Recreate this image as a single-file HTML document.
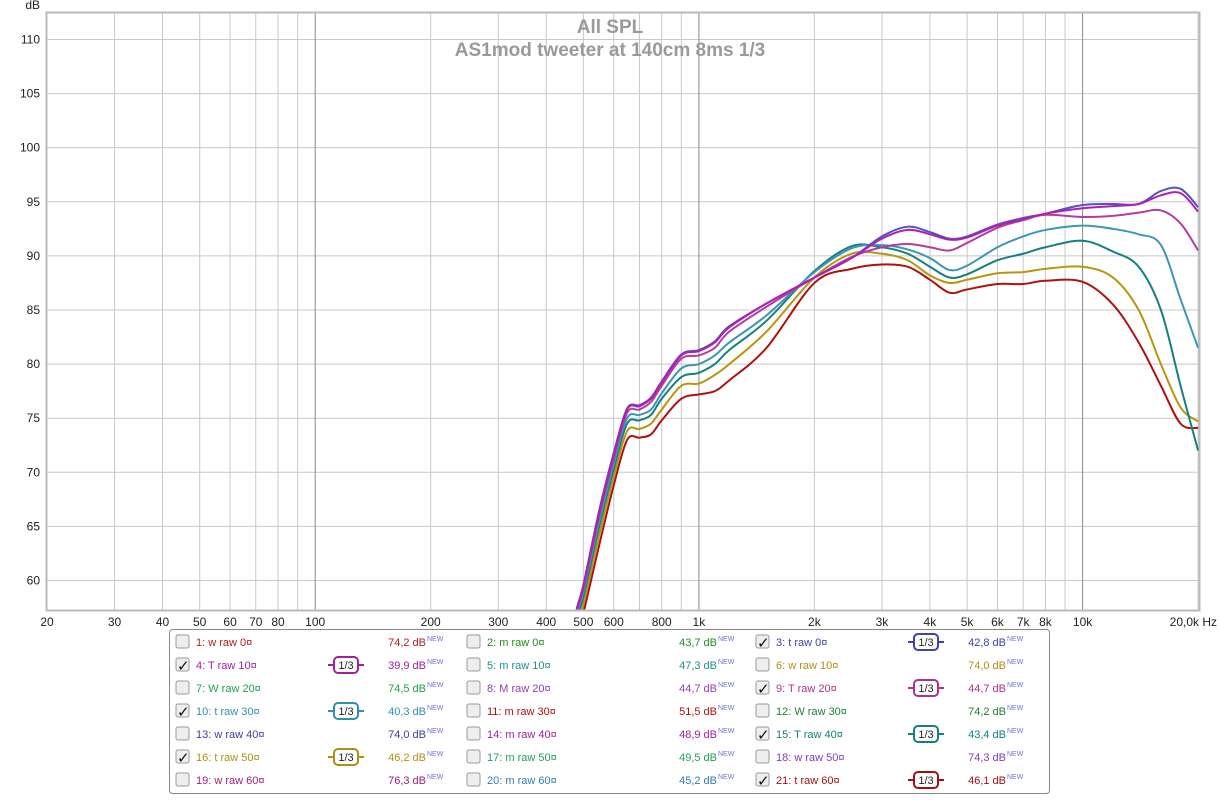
<!DOCTYPE html>
<html><head><meta charset="utf-8">
<style>
body{margin:0;background:#fff;font-family:"Liberation Sans",sans-serif;}
svg text{font-family:"Liberation Sans",sans-serif;}
</style></head>
<body>
<svg id="chart" width="1220" height="795" viewBox="0 0 1220 795" xmlns="http://www.w3.org/2000/svg">
<rect x="0" y="0" width="1220" height="795" fill="#fff"/>
<g id="grid"></g>
<g id="axes"></g>
<text x="610" y="33" text-anchor="middle" font-size="19" font-weight="bold" fill="#9a9a9a">All SPL</text>
<text x="610" y="56" text-anchor="middle" font-size="19" font-weight="bold" fill="#9a9a9a">AS1mod tweeter at 140cm 8ms 1/3</text>
<defs><clipPath id="pc"><rect x="47" y="13" width="1152" height="597"/></clipPath></defs>
<g id="curves" clip-path="url(#pc)"></g>
<rect x="46.5" y="12.5" width="1153" height="598" fill="none" stroke="#bbb" stroke-width="2"/>
<g id="legend"></g>
</svg>
<script>
const freqs=[470,480,500,550,600,650,700,750,800,900,1000,1100,1200,1500,2000,2500,3000,3500,4000,4500,5000,6000,7000,8000,10000,12000,14000,16000,18000,20000];
const s3 =[54.5,57.3,59.6,66.5,71.8,75.9,76.2,76.9,78.4,80.9,81.3,82.1,83.5,85.6,88.0,89.8,91.8,92.7,92.2,91.6,91.8,92.9,93.5,93.9,94.7,94.8,94.8,96.0,96.2,94.5];
const s4 =[54.5,57.2,59.5,66.3,71.6,75.8,76.1,76.8,78.3,80.8,81.2,82.0,83.4,85.6,88.0,89.8,91.6,92.4,92.0,91.5,91.7,92.8,93.4,93.9,94.4,94.6,94.8,95.6,95.8,94.1];
const s9 =[54.3,57.0,59.3,66.0,71.3,75.5,75.8,76.5,78.0,80.5,80.8,81.5,83.0,85.3,88.0,89.9,90.8,91.1,90.8,90.5,91.2,92.6,93.3,93.8,93.6,93.7,94.0,94.2,93.0,90.5];
const s10=[54.0,56.7,59.0,65.5,70.8,75.0,75.3,75.8,77.3,79.6,80.0,80.8,82.0,84.5,88.5,90.7,91.0,90.6,89.8,88.7,89.1,90.8,91.8,92.4,92.8,92.5,92.0,91.0,86.0,81.5];
const s15=[53.6,56.3,58.5,65.0,70.3,74.5,74.8,75.3,76.8,78.8,79.2,80.0,81.3,84.0,88.6,90.9,90.8,90.2,89.0,88.0,88.3,89.6,90.2,90.8,91.4,90.4,89.0,85.0,78.0,72.0];
const s16=[53.0,55.7,57.8,64.2,69.6,73.8,74.0,74.5,75.8,78.0,78.2,79.0,80.0,83.0,88.0,90.2,90.2,89.6,88.2,87.5,87.8,88.4,88.5,88.8,89.0,88.0,85.0,80.0,76.0,74.7];
const s21=[52.4,55.0,57.0,63.3,68.8,73.0,73.2,73.5,74.8,76.8,77.2,77.5,78.5,81.5,87.5,88.8,89.2,89.0,87.8,86.6,86.9,87.4,87.4,87.7,87.6,85.5,82.0,78.0,74.5,74.1];
const seriesList=[[s21,'#b01010','curve-21-t-raw-60'],[s16,'#b8960c','curve-16-t-raw-50'],[s15,'#168080','curve-15-T-raw-40'],[s10,'#3c96b4','curve-10-t-raw-30'],[s9,'#b43ca0','curve-9-T-raw-20'],[s3,'#5050c8','curve-3-t-raw-0'],[s4,'#b020b0','curve-4-T-raw-10']];
const yTicks=[60,65,70,75,80,85,90,95,100,105,110];
const xLabels=[[20,'20'],[30,'30'],[40,'40'],[50,'50'],[60,'60'],[70,'70'],[80,'80'],[100,'100'],[200,'200'],[300,'300'],[400,'400'],[500,'500'],[600,'600'],[800,'800'],[1000,'1k'],[2000,'2k'],[3000,'3k'],[4000,'4k'],[5000,'5k'],[6000,'6k'],[7000,'7k'],[8000,'8k'],[10000,'10k']];
const NS='http://www.w3.org/2000/svg';
const X=f=>47+383.7*Math.log10(f/20);
const Y=d=>39.5+(110-d)*10.82;
function mk(t,a,p){const e=document.createElementNS(NS,t);for(const k in a)e.setAttribute(k,a[k]);p.appendChild(e);return e;}
const grid=document.getElementById('grid'),axes=document.getElementById('axes');
for(const d of yTicks){
 const l=mk('line',{x1:47,x2:1199,y1:Y(d),y2:Y(d),stroke:'#c8c8c8'},grid);
 
 
 const t=mk('text',{x:40,y:Y(d)+4,'text-anchor':'end','font-size':12,fill:'#222'},axes);t.textContent=d;
 
 
}
const yt=mk('text',{x:40,y:9,'text-anchor':'end','font-size':12,fill:'#222'},axes);yt.textContent='dB';


for(let dec=10;dec<=10000;dec*=10)for(let m=1;m<10;m++){const f=dec*m;if(f<20||f>20000)continue;
 const dark=(m==1);
 const l=mk('line',{x1:X(f),x2:X(f),y1:13,y2:610,stroke:dark?'#888':'#c8c8c8'},grid);
 
 }
for(const [f,s] of xLabels){
 const t=mk('text',{x:X(f),y:626,'text-anchor':'middle','font-size':12,fill:'#222'},axes);t.textContent=s;
 
 }
const lastLbl=mk('text',{x:1217,y:626,'text-anchor':'end','font-size':12,fill:'#222'},axes);lastLbl.textContent='20,0k Hz';


function path(vals){const p=freqs.map((f,i)=>[X(f),Y(vals[i])]);let d='M'+p[0][0]+','+p[0][1];
 for(let i=0;i<p.length-1;i++){const p0=p[Math.max(0,i-1)],p1=p[i],p2=p[i+1],p3=p[Math.min(p.length-1,i+2)];
 const c1=[p1[0]+(p2[0]-p0[0])/6,p1[1]+(p2[1]-p0[1])/6],c2=[p2[0]-(p3[0]-p1[0])/6,p2[1]-(p3[1]-p1[1])/6];
 d+=` C${c1[0]},${c1[1]} ${c2[0]},${c2[1]} ${p2[0]},${p2[1]}`;}return d;}
const cg=document.getElementById('curves');
for(const [v,c,n] of seriesList){const e=mk('path',{d:path(v),fill:'none',stroke:c,'stroke-width':2},cg);
 
 }
const lg=document.getElementById('legend');
const lb=mk('rect',{x:169.5,y:629.5,width:880,height:164,rx:3,fill:'#fff',stroke:'#888'},lg);


const entries=[
['1: w raw 0¤','74,2','#b02020',0,0],['2: m raw 0¤','43,7','#209020',0,0],['3: t raw 0¤','42,8','#4040b0',1,1],
['4: T raw 10¤','39,9','#a020a0',1,1],['5: m raw 10¤','47,3','#209090',0,0],['6: w raw 10¤','74,0','#b09010',0,0],
['7: W raw 20¤','74,5','#20a050',0,0],['8: M raw 20¤','44,7','#9040b0',0,0],['9: T raw 20¤','44,7','#b03090',1,1],
['10: t raw 30¤','40,3','#3090b0',1,1],['11: m raw 30¤','51,5','#b01010',0,0],['12: W raw 30¤','74,2','#208030',0,0],
['13: w raw 40¤','74,0','#4040a0',0,0],['14: m raw 40¤','48,9','#a020a0',0,0],['15: T raw 40¤','43,4','#108080',1,1],
['16: t raw 50¤','46,2','#b09010',1,1],['17: m raw 50¤','49,5','#20a060',0,0],['18: w raw 50¤','74,3','#8040b0',0,0],
['19: w raw 60¤','76,3','#a02080',0,0],['20: m raw 60¤','45,2','#3080b0',0,0],['21: t raw 60¤','46,1','#a01010',1,1]];
const colX=[176,467,756];
entries.forEach((e,i)=>{const r=Math.floor(i/3),c=i%3,x=colX[c],y=642+r*23;
 const g=mk('g',{},lg);
 
 
 const cb=mk('rect',{x:x,y:y-7,width:13,height:13,rx:2,fill:'#eee',stroke:'#999'},g);
 
 
 if(e[3]){const ck=mk('text',{x:x+1,y:y+6,'font-size':15,fill:'#111'},g);ck.textContent='✓';}
 const t=mk('text',{x:x+20,y:y+4,'font-size':11,fill:e[2]},g);t.textContent=e[0];
 const v=mk('text',{x:x+250,y:y+4,'font-size':11,fill:e[2],'text-anchor':'end'},g);v.textContent=e[1]+' dB';
 const nw=mk('text',{x:x+251,y:y-1,'font-size':7,fill:'#7070e0'},g);nw.textContent='NEW';
 if(e[4]){const bx=x+152;
  mk('line',{x1:bx,x2:bx+36,y1:y,y2:y,stroke:e[2],'stroke-width':2},g);
  const br=mk('rect',{x:bx+6,y:y-8,width:24,height:16,rx:4,fill:'#fff',stroke:e[2],'stroke-width':2},g);
  
  
  const bt=mk('text',{x:bx+18,y:y+4,'font-size':11,fill:'#222','text-anchor':'middle'},g);bt.textContent='1/3';}
});
</script>
</body></html>
